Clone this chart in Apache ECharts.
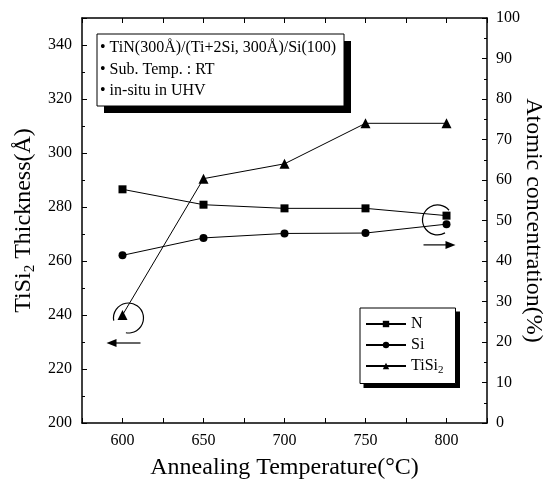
<!DOCTYPE html>
<html>
<head>
<meta charset="utf-8">
<script src="https://cdn.jsdelivr.net/npm/echarts@6/dist/echarts.min.js"></script>
<style>
  html, body { margin: 0; padding: 0; background: #fff; }
  #main { width: 550px; height: 488px; }
</style>
</head>
<body>
<div id="main"></div>
<script>
// data
var temps = [600, 650, 700, 750, 800];
var tisi2Thickness = [240, 290.5, 296, 311, 311];   // left axis (Å)
var nConc = [57.7, 53.9, 53.0, 53.0, 51.2];          // right axis (%)
var siConc = [41.4, 45.7, 46.8, 46.9, 49.1];         // right axis (%)
var xTickLabels = [600, 650, 700, 750, 800];
var notes = ['• TiN(300Å)/(Ti+2Si, 300Å)/Si(100)', '• Sub. Temp. : RT', '• in-situ in UHV'];

var FONT = '"Liberation Serif", "DejaVu Serif", serif';

function pairs(ys) {
    return temps.map(function (t, i) { return [t, ys[i]]; });
}

var myChart = echarts.init(document.getElementById('main'));

var axisLine = { lineStyle: { color: '#000', width: 1.5 } };
var label = { color: '#000', fontFamily: FONT, fontSize: 16 };

var option = {
    animation: false,
    backgroundColor: '#fff',
    grid: { left: 82, right: 63, top: 18, bottom: 65, outerBoundsMode: 'none' },
    legend: {
        orient: 'vertical',
        left: 360,
        top: 308,
        padding: [8, 12, 8, 5],
        itemGap: 5,
        itemWidth: 40,
        itemHeight: 8,
        backgroundColor: '#fff',
        borderColor: '#000',
        borderWidth: 1,
        z: 5,
        data: ['N', 'Si', 'TiSi2'],
        formatter: function (name) {
            return name === 'TiSi2' ? '{a|TiSi}{s|2}' : '{a|' + name + '}';
        },
        textStyle: {
            rich: {
                a: { fontFamily: FONT, fontSize: 16, color: '#000' },
                s: { fontFamily: FONT, fontSize: 11, color: '#000', padding: [8, 0, 0, 0] }
            }
        }
    },
    xAxis: [
        {
            type: 'value', min: 575, max: 825, interval: 25,
            name: 'Annealing Temperature(°C)',
            nameLocation: 'middle', nameGap: 33,
            nameTextStyle: { color: '#000', fontFamily: FONT, fontSize: 24 },
            axisLine: axisLine,
            axisTick: { inside: true, length: 5, lineStyle: { color: '#000' } },
            axisLabel: Object.assign({}, label, {
                margin: 10,
                formatter: function (v) { return xTickLabels.indexOf(v) >= 0 ? String(v) : ''; }
            }),
            splitLine: { show: false }
        },
        {
            type: 'value', min: 575, max: 825, interval: 25, position: 'top',
            axisLine: axisLine,
            axisTick: { inside: true, length: 5, lineStyle: { color: '#000' } },
            axisLabel: { show: false },
            splitLine: { show: false }
        }
    ],
    yAxis: [
        {
            type: 'value', min: 200, max: 350, interval: 20, position: 'left',
            name: '{a|TiSi}{s|2}{a| Thickness(Å)}',
            nameLocation: 'middle', nameGap: 44,
            nameTextStyle: {
                rich: {
                    a: { fontFamily: FONT, fontSize: 24, color: '#000' },
                    s: { fontFamily: FONT, fontSize: 15, color: '#000', padding: [12, 0, 0, 0] }
                }
            },
            axisLine: Object.assign({ show: true }, axisLine),
            axisTick: { inside: true, length: 5, lineStyle: { color: '#000' } },
            minorTick: { show: true, splitNumber: 2, length: 3, lineStyle: { color: '#000' } },
            axisLabel: Object.assign({}, label, { margin: 10, showMaxLabel: false }),
            splitLine: { show: false }
        },
        {
            type: 'value', min: 0, max: 100, interval: 10, position: 'right',
            name: 'Atomic concentration(%)',
            nameLocation: 'middle', nameGap: 34, nameRotate: -90, nameMoveOverlap: false,
            nameTextStyle: { color: '#000', fontFamily: FONT, fontSize: 24 },
            axisLine: Object.assign({ show: true }, axisLine),
            axisTick: { inside: true, length: 5, lineStyle: { color: '#000' } },
            minorTick: { show: true, splitNumber: 2, length: 3, lineStyle: { color: '#000' } },
            axisLabel: Object.assign({}, label, { margin: 9 }),
            splitLine: { show: false }
        }
    ],
    series: [
        {
            name: 'N', type: 'line', yAxisIndex: 1,
            data: pairs(nConc),
            symbol: 'rect', symbolSize: 8,
            itemStyle: { color: '#000' },
            lineStyle: { color: '#000', width: 1 }
        },
        {
            name: 'Si', type: 'line', yAxisIndex: 1,
            data: pairs(siConc),
            symbol: 'circle', symbolSize: 8,
            itemStyle: { color: '#000' },
            lineStyle: { color: '#000', width: 1 }
        },
        {
            name: 'TiSi2', type: 'line', yAxisIndex: 0,
            data: pairs(tisi2Thickness),
            symbol: 'triangle', symbolSize: 10,
            itemStyle: { color: '#000' },
            lineStyle: { color: '#000', width: 1 }
        }
    ]
};

option && myChart.setOption(option);

// annotations: note box, legend shadow, circles and arrows marking which axis each group uses
var pL = myChart.convertToPixel({ xAxisIndex: 0, yAxisIndex: 0 }, [temps[0], tisi2Thickness[0]]);
var pR = myChart.convertToPixel({ xAxisIndex: 0, yAxisIndex: 1 },
    [temps[temps.length - 1], (nConc[nConc.length - 1] + siConc[siConc.length - 1]) / 2]);

var deg = Math.PI / 180;
var stroke = { stroke: '#000', lineWidth: 1.2, fill: null };

// size the legend shadow from the drawn legend box
var legendBox = { x: 360, y: 308, width: 100, height: 74 };
try {
    var lv = myChart._componentsViews.filter(function (v) { return v.type === 'legend.plain'; })[0];
    var r = lv.group.getBoundingRect();
    legendBox = { x: lv.group.x + r.x, y: lv.group.y + r.y, width: r.width, height: r.height };
} catch (e) {}

myChart.setOption({
    graphic: [
        // note box: shadow then box
        { type: 'rect', shape: { x: 104, y: 41, width: 247, height: 72 }, style: { fill: '#000' }, z: 100 },
        { type: 'rect', shape: { x: 97, y: 34, width: 247, height: 72 }, style: { fill: '#fff', stroke: '#000', lineWidth: 1 }, z: 101 },
        {
            type: 'group', z: 102,
            children: notes.map(function (t, i) {
                return {
                    type: 'text', x: 100, y: 48 + i * 21.5, z: 102,
                    style: { text: t, fill: '#000', font: '16px ' + FONT, verticalAlign: 'middle' }
                };
            })
        },
        // legend shadow
        {
            type: 'rect',
            shape: { x: legendBox.x + 4, y: legendBox.y + 4, width: legendBox.width, height: legendBox.height },
            style: { fill: '#000' }, z: 1
        },
        {
            type: 'arc',
            shape: { cx: pL[0] + 6, cy: pL[1] + 3, r: 15, startAngle: 170 * deg, endAngle: 100 * deg, clockwise: true },
            style: stroke
        },
        {
            type: 'polyline',
            shape: { points: [[pL[0] + 18, pL[1] + 28], [pL[0] - 10, pL[1] + 28]] },
            style: { stroke: '#000', lineWidth: 1.2 }
        },
        {
            type: 'polygon',
            shape: { points: [[pL[0] - 16, pL[1] + 28], [pL[0] - 6, pL[1] + 24], [pL[0] - 6, pL[1] + 32]] },
            style: { fill: '#000' }
        },
        {
            type: 'arc',
            shape: { cx: pR[0] - 9, cy: pR[1], r: 15, startAngle: 60 * deg, endAngle: 320 * deg, clockwise: true },
            style: stroke
        },
        {
            type: 'polyline',
            shape: { points: [[pR[0] - 23, pR[1] + 25], [pR[0] + 3, pR[1] + 25]] },
            style: { stroke: '#000', lineWidth: 1.2 }
        },
        {
            type: 'polygon',
            shape: { points: [[pR[0] + 9, pR[1] + 25], [pR[0] - 1, pR[1] + 21], [pR[0] - 1, pR[1] + 29]] },
            style: { fill: '#000' }
        }
    ]
});
</script>
</body>
</html>
